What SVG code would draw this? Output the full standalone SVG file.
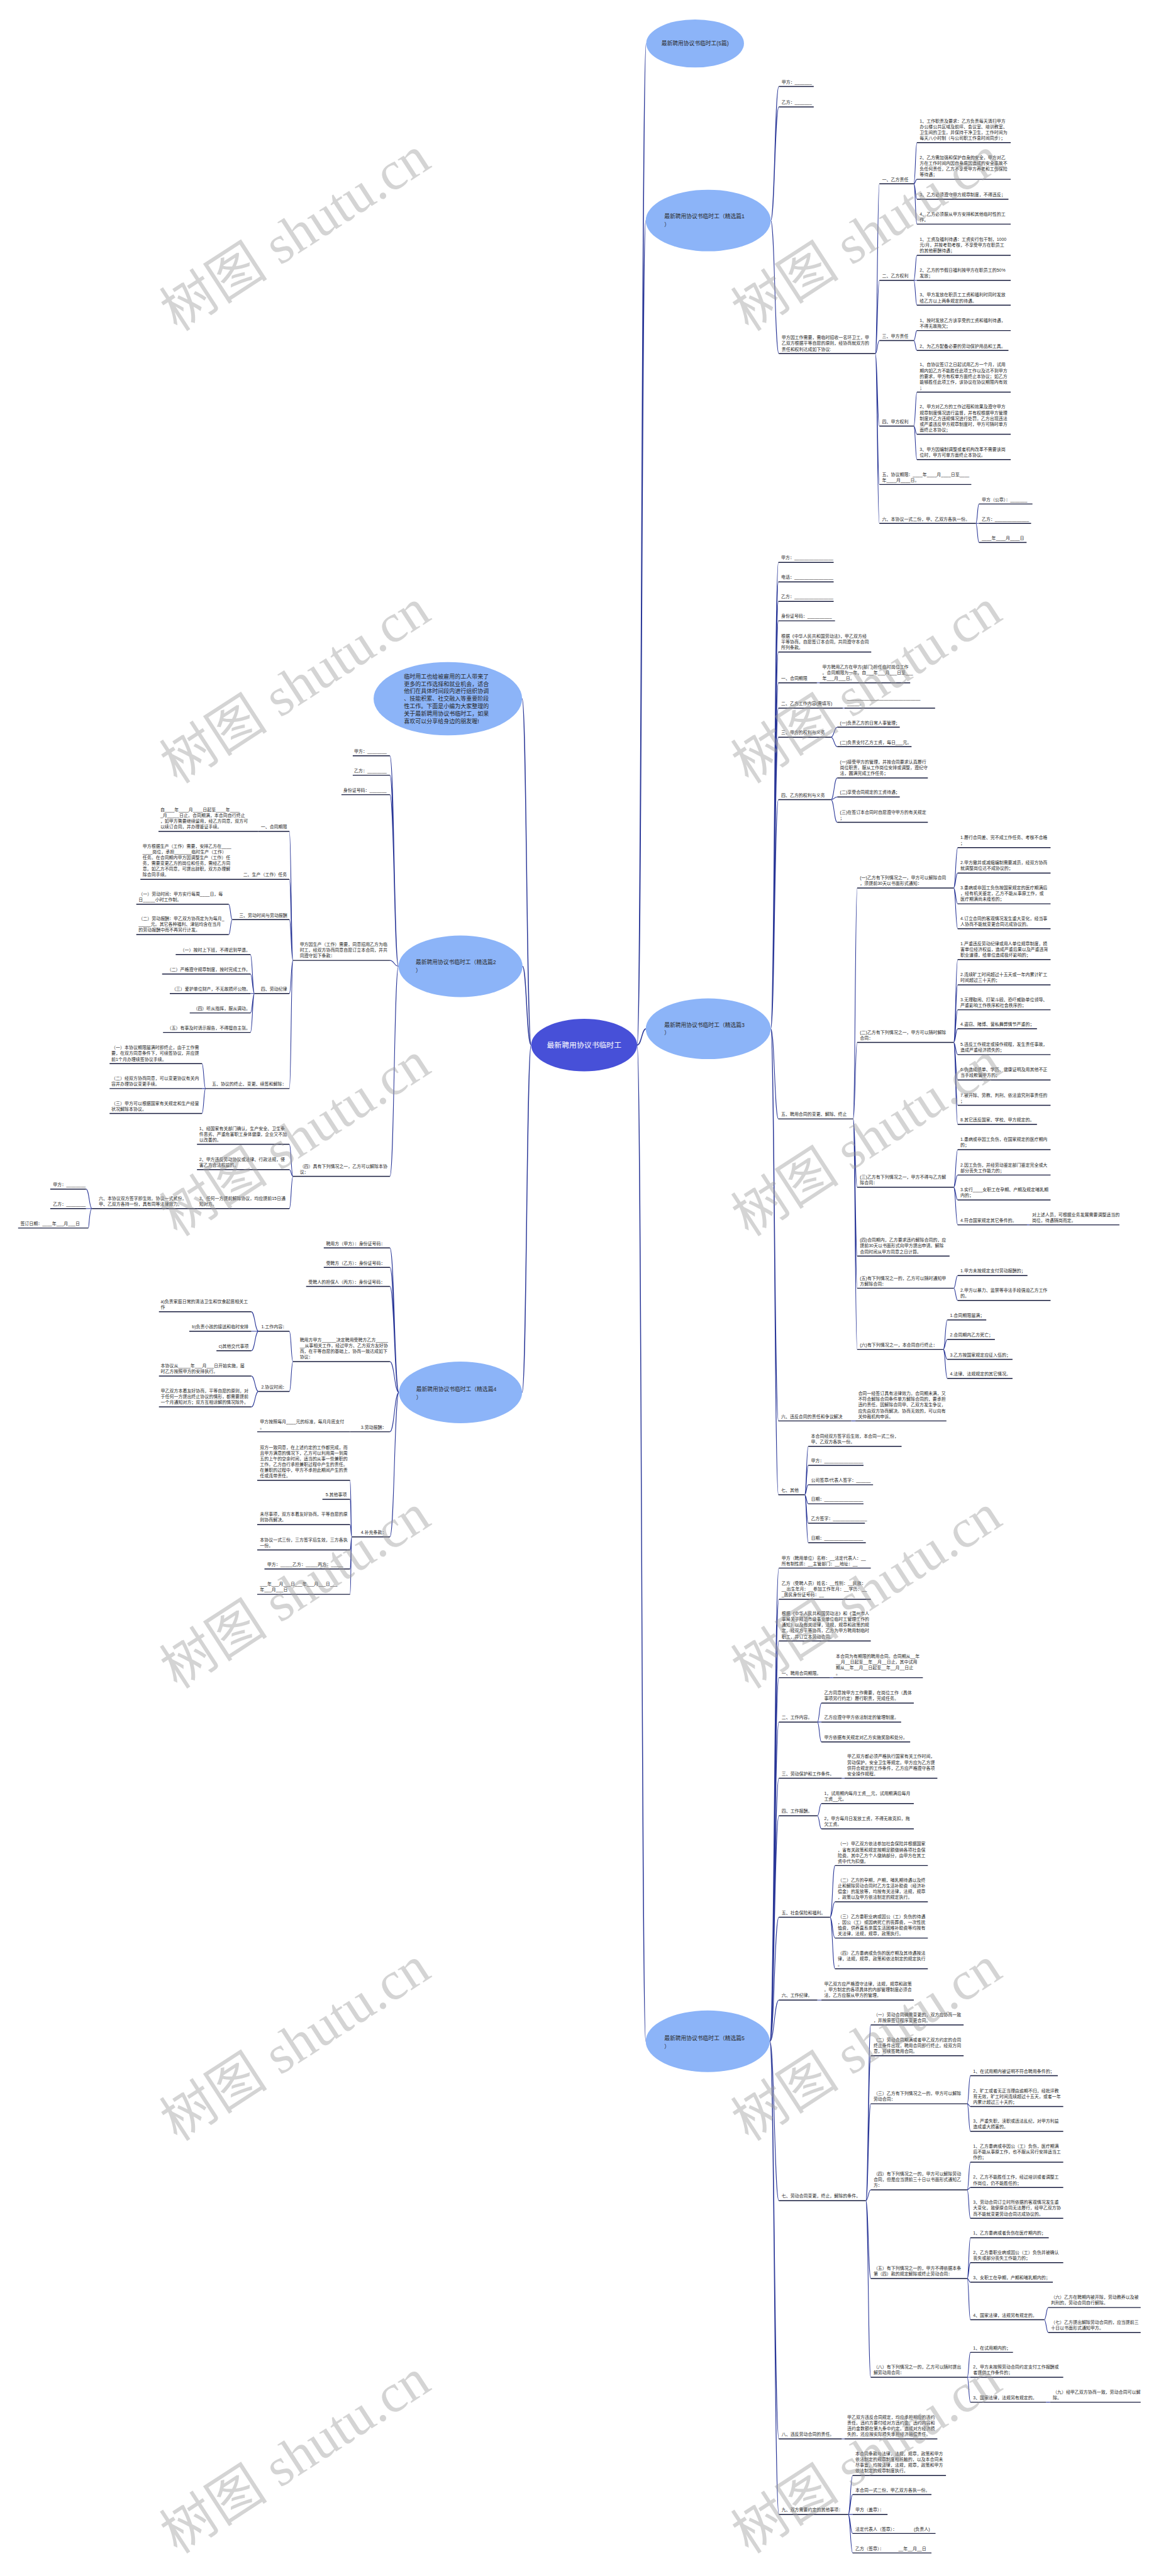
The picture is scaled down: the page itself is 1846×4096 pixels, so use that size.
<svg xmlns="http://www.w3.org/2000/svg" width="1846" height="4096" viewBox="0 0 1846 4096">
<style>
.t{font-family:"Liberation Sans","Noto Sans CJK SC",sans-serif;font-size:9.7px;fill:#262626}
.u{stroke:#161b3d;stroke-width:2;fill:none}
.c{stroke:#2a3798;stroke-width:1.5;fill:none}
.tr{stroke:#2a3798;stroke-width:2;fill:none}
.e{fill:#8cb4f8}
.ec{fill:#4750d8}
.el{font-family:"Liberation Sans","Noto Sans CJK SC",sans-serif;font-size:12.2px;fill:#2b2b2b}
.cl{font-family:"Liberation Sans","Noto Sans CJK SC",sans-serif;font-size:16.5px;fill:#ffffff}
.it{font-family:"Liberation Sans","Noto Sans CJK SC",sans-serif;font-size:12.5px;fill:#262626}
.w{font-family:"Liberation Serif","Noto Sans CJK SC",serif;font-size:120px;fill:#999999;fill-opacity:0.42}
</style>
<rect width="1846" height="4096" fill="#ffffff"/>
<g transform="scale(0.72)">
<g id="connectors">
<path class="tr" d="M1407 2308C1417 2308 1417 96 1427 96M1407 2308C1417 2308 1417 487 1426 487M1407 2308C1417 2308 1417 2272 1427 2272M1407 2308C1417 2308 1417 4508 1426 4508M1173 2308C1163 2308 1163 1543 1153 1543M1173 2308C1163 2308 1163 2134 1154 2134M1173 2308C1163 2308 1163 3075 1153 3075"/>
<path class="c" d="M1702 487C1711 487 1711 191 1720 191M1702 487C1711 487 1711 236 1720 236M1702 487C1711 487 1711 781 1720 781
M1933 781C1937.5 781 1937.5 406 1942 406M1933 781C1937.5 781 1937.5 619 1942 619M1933 781C1937.5 781 1937.5 752 1942 752M1933 781C1937.5 781 1937.5 941 1942 941M1933 781C1937.5 781 1937.5 1070 1942 1070M1933 781C1937.5 781 1937.5 1156 1942 1156
M2018 406C2021.5 406 2021.5 315 2025 315M2018 406C2021.5 406 2021.5 396 2025 396M2018 406C2021.5 406 2021.5 440 2025 440M2018 406C2021.5 406 2021.5 495 2025 495
M2018 619C2021.5 619 2021.5 564 2025 564M2018 619H2025M2018 619C2021.5 619 2021.5 674 2025 674
M2018 752C2021.5 752 2021.5 730 2025 730M2018 752C2021.5 752 2021.5 774 2025 774
M2018 941C2021.5 941 2021.5 866 2025 866M2018 941C2021.5 941 2021.5 959 2025 959M2018 941C2021.5 941 2021.5 1015 2025 1015
M2155 1156C2158.5 1156 2158.5 1113 2162 1113M2155 1156H2162M2155 1156C2158.5 1156 2158.5 1198 2162 1198"/>
<path class="c" d="M1702 2272C1710.5 2272 1710.5 1242 1719 1242M1702 2272C1710.5 2272 1710.5 1285 1719 1285M1702 2272C1710.5 2272 1710.5 1328 1719 1328M1702 2272C1710.5 2272 1710.5 1371 1719 1371M1702 2272C1710.5 2272 1710.5 1440 1719 1440M1702 2272C1710.5 2272 1710.5 1508 1719 1508M1702 2272C1710.5 2272 1710.5 1564 1719 1564M1702 2272C1710.5 2272 1710.5 1628 1719 1628M1702 2272C1710.5 2272 1710.5 1766 1719 1766M1702 2272C1710.5 2272 1710.5 2471 1719 2471M1702 2272C1710.5 2272 1710.5 3138 1719 3138M1702 2272C1710.5 2272 1710.5 3301 1719 3301
M1804 1508H1810M1861 1564H1865M1880 3138H1889M2268 2705H2273
M1835 1628C1842 1628 1842 1606 1849 1606M1835 1628C1842 1628 1842 1649 1849 1649
M1835 1766C1842 1766 1842 1718 1849 1718M1835 1766C1842 1766 1842 1760 1849 1760M1835 1766C1842 1766 1842 1816 1849 1816
M1884 2471C1888.5 2471 1888.5 1961 1893 1961M1884 2471C1888.5 2471 1888.5 2302 1893 2302M1884 2471C1888.5 2471 1888.5 2622 1893 2622M1884 2471C1888.5 2471 1888.5 2774 1893 2774M1884 2471C1888.5 2471 1888.5 2845 1893 2845M1884 2471C1888.5 2471 1888.5 2980 1893 2980
M2106 1961C2110.5 1961 2110.5 1872 2115 1872M2106 1961C2110.5 1961 2110.5 1928 2115 1928M2106 1961C2110.5 1961 2110.5 1996 2115 1996M2106 1961C2110.5 1961 2110.5 2051 2115 2051
M2106 2302C2110.5 2302 2110.5 2119 2115 2119M2106 2302C2110.5 2302 2110.5 2175 2115 2175M2106 2302C2110.5 2302 2110.5 2230 2115 2230M2106 2302C2110.5 2302 2110.5 2272 2115 2272M2106 2302C2110.5 2302 2110.5 2329 2115 2329M2106 2302C2110.5 2302 2110.5 2385 2115 2385M2106 2302C2110.5 2302 2110.5 2441 2115 2441M2106 2302C2110.5 2302 2110.5 2483 2115 2483
M2106 2622C2110.5 2622 2110.5 2539 2115 2539M2106 2622C2110.5 2622 2110.5 2595 2115 2595M2106 2622C2110.5 2622 2110.5 2650 2115 2650M2106 2622C2110.5 2622 2110.5 2705 2115 2705
M2106 2845C2110.5 2845 2110.5 2817 2115 2817M2106 2845C2110.5 2845 2110.5 2872 2115 2872
M2083 2980C2087.5 2980 2087.5 2915 2092 2915M2083 2980C2087.5 2980 2087.5 2958 2092 2958M2083 2980C2087.5 2980 2087.5 3002 2092 3002M2083 2980C2087.5 2980 2087.5 3044 2092 3044
M1777 3301C1781 3301 1781 3194 1785 3194M1777 3301C1781 3301 1781 3236 1785 3236M1777 3301C1781 3301 1781 3279 1785 3279M1777 3301C1781 3301 1781 3321 1785 3321M1777 3301C1781 3301 1781 3364 1785 3364M1777 3301C1781 3301 1781 3407 1785 3407"/>
<path class="c" d="M1700 4508C1710 4508 1710 3463 1720 3463M1700 4508C1710 4508 1710 3532 1720 3532M1700 4508C1710 4508 1710 3624 1720 3624M1700 4508C1710 4508 1710 3705 1720 3705M1700 4508C1710 4508 1710 3803 1720 3803M1700 4508C1710 4508 1710 3927 1720 3927M1700 4508C1710 4508 1710 4010 1720 4010M1700 4508C1710 4508 1710 4234 1720 4234M1700 4508C1710 4508 1710 4417 1720 4417M1700 4508C1710 4508 1710 4860 1720 4860M1700 4508C1710 4508 1710 5386 1720 5386M1700 4508C1710 4508 1710 5553 1720 5553
M1833 3705H1840M1859 3927H1865M1805 4417H1814M1859 5386H1865M2310 5305H2319
M1805 3803C1809.5 3803 1809.5 3761 1814 3761M1805 3803H1814M1805 3803C1809.5 3803 1809.5 3847 1814 3847
M1805 4010C1809.5 4010 1809.5 3983 1814 3983M1805 4010C1809.5 4010 1809.5 4039 1814 4039
M1833 4234C1838.5 4234 1838.5 4120 1844 4120M1833 4234C1838.5 4234 1838.5 4200 1844 4200M1833 4234C1838.5 4234 1838.5 4280 1844 4280M1833 4234C1838.5 4234 1838.5 4348 1844 4348
M1912 4860C1917.5 4860 1917.5 4472 1923 4472M1912 4860C1917.5 4860 1917.5 4540 1923 4540M1912 4860C1917.5 4860 1917.5 4646 1923 4646M1912 4860C1917.5 4860 1917.5 4836 1923 4836M1912 4860C1917.5 4860 1917.5 5032 1923 5032M1912 4860C1917.5 4860 1917.5 5250 1923 5250
M2136 4646C2139.5 4646 2139.5 4584 2143 4584M2136 4646C2139.5 4646 2139.5 4652 2143 4652M2136 4646C2139.5 4646 2139.5 4707 2143 4707
M2136 4836C2139.5 4836 2139.5 4775 2143 4775M2136 4836C2139.5 4836 2139.5 4831 2143 4831M2136 4836C2139.5 4836 2139.5 4899 2143 4899
M2136 5032C2139.5 5032 2139.5 4942 2143 4942M2136 5032C2139.5 5032 2139.5 4997 2143 4997M2136 5032C2139.5 5032 2139.5 5040 2143 5040M2136 5032C2139.5 5032 2139.5 5123 2143 5123
M2306 5123C2310.5 5123 2310.5 5096 2315 5096M2306 5123C2310.5 5123 2310.5 5151 2315 5151
M2136 5250C2139.5 5250 2139.5 5195 2143 5195M2136 5250H2143M2136 5250C2139.5 5250 2139.5 5305 2143 5305
M1873 5553C1878 5553 1878 5467 1883 5467M1873 5553C1878 5553 1878 5509 1883 5509M1873 5553H1883M1873 5553C1878 5553 1878 5595 1883 5595M1873 5553C1878 5553 1878 5638 1883 5638"/>
<path class="c" d="M880 2134C870.5 2134 870.5 1669 861 1669M880 2134C870.5 2134 870.5 1712 861 1712M880 2134C870.5 2134 870.5 1755 861 1755M880 2134C870.5 2134 870.5 2121 861 2121M880 2134C870.5 2134 870.5 2598 861 2598
M647 2121C643 2121 643 1836 639 1836M647 2121C643 2121 643 1942 639 1942M647 2121C643 2121 643 2031 639 2031M647 2121C643 2121 643 2194 639 2194M647 2121C643 2121 643 2404 639 2404
M513 2031C509 2031 509 1997 505 1997M513 2031C509 2031 509 2064 505 2064
M562 2194C557.5 2194 557.5 2108 553 2108M562 2194C557.5 2194 557.5 2151 553 2151M562 2194H553M562 2194C557.5 2194 557.5 2237 553 2237M562 2194C557.5 2194 557.5 2280 553 2280
M454 2404C450 2404 450 2349 446 2349M454 2404H446M454 2404C450 2404 450 2459 446 2459
M647 2598C643 2598 643 2527 639 2527M647 2598C643 2598 643 2583 639 2583M647 2598C643 2598 643 2669 639 2669
M203 2669C197 2669 197 2626 190 2626M203 2669H190M203 2669C197 2669 197 2712 195 2712"/>
<path class="c" d="M881 3075C871 3075 871 2756 861 2756M881 3075C871 3075 871 2799 861 2799M881 3075C871 3075 871 2841 861 2841M881 3075C871 3075 871 3007 861 3007M881 3075C871 3075 871 3162 861 3162M881 3075C871 3075 871 3394 861 3394
M647 3007C643 3007 643 2940 639 2940M647 3007C643 3007 643 3073 639 3073
M571 2940C563 2940 563 2897 555 2897M571 2940H555M571 2940C563 2940 563 2983 555 2983
M571 3073C563 3073 563 3039 555 3039M571 3073C563 3073 563 3107 555 3107
M777 3394C775 3394 775 3269 773 3269M777 3394C775 3394 775 3311 773 3311M777 3394C775 3394 775 3367 773 3367M777 3394C775 3394 775 3423 773 3423M777 3394C775 3394 775 3465 773 3465M777 3394C775 3394 775 3521 773 3521"/>
</g>

<g id="center"><ellipse cx="1290" cy="2308" rx="117" ry="58" class="ec"/><text x="1290" y="2314" class="cl" text-anchor="middle">最新聘用协议书临时工</text></g>
<g id="title"><ellipse cx="1535" cy="96" rx="108" ry="53" class="e"/><text x="1535" y="100" class="el" text-anchor="middle">最新聘用协议书临时工(5篇)</text></g>
<g id="intro"><ellipse cx="989" cy="1543" rx="164" ry="81" class="e"/><text class="it" x="892" y="1498">临时用工也给被雇用的工人带来了<tspan x="892" dy="16.6">更多的工作选择和就业机会，适合</tspan><tspan x="892" dy="16.6">他们在具体时间段内进行组织协调</tspan><tspan x="892" dy="16.6">、技能积累、社交融入等重要阶段</tspan><tspan x="892" dy="16.6">性工作。下面是小编为大家整理的</tspan><tspan x="892" dy="16.6">关于最新聘用协议书临时工，如果</tspan><tspan x="892" dy="16.6">喜欢可以分享给身边的朋友喔!</tspan></text></g>
<g id="p1"><ellipse cx="1564" cy="487" rx="138" ry="68" class="e"/><text class="el" x="1467" y="482">最新聘用协议书临时工（精选篇1<tspan x="1467" dy="18">）</tspan></text></g>
<g id="p3"><ellipse cx="1564" cy="2272" rx="138" ry="67" class="e"/><text class="el" x="1467" y="2268">最新聘用协议书临时工（精选篇3<tspan x="1467" dy="17">）</tspan></text></g>
<g id="p5"><ellipse cx="1563" cy="4508" rx="137" ry="68" class="e"/><text class="el" x="1467" y="4505">最新聘用协议书临时工（精选篇5<tspan x="1467" dy="18">）</tspan></text></g>
<g id="p2"><ellipse cx="1017" cy="2134" rx="137" ry="68" class="e"/><text class="el" x="918" y="2129">最新聘用协议书临时工（精选篇2<tspan x="918" dy="18">）</tspan></text></g>
<g id="p4"><ellipse cx="1017" cy="3075" rx="136" ry="68" class="e"/><text class="el" x="919" y="3072">最新聘用协议书临时工（精选篇4<tspan x="919" dy="18">）</tspan></text></g>

<!-- Branch 1 -->
<g id="b1a"><text class="t" x="1726" y="184.4">甲方：_______</text><path class="u" d="M1720 191H1797"/></g>
<g id="b1b"><text class="t" x="1726" y="229.4">乙方：_______</text><path class="u" d="M1720 236H1797"/></g>
<g id="b1c"><text class="t" x="1726" y="749.2">甲方因工作需要，需临时招收一名环卫工，甲<tspan x="1726" dy="12.6">乙双方根据平等自愿的原则，经协商就双方的</tspan><tspan x="1726" dy="12.6">责任和权利达成如下协议:</tspan></text><path class="u" d="M1720 781H1933"/></g>
<g id="b1c1"><text class="t" x="1948" y="399.4">一、乙方责任</text><path class="u" d="M1942 406H2018"/></g>
<g id="b1c1a"><text class="t" x="2031" y="270.6">1、工作职责及要求：乙方负责每天清扫甲方<tspan x="2031" dy="12.6">办公楼公共区域及前坪、会议室、培训教室、</tspan><tspan x="2031" dy="12.6">卫生间的卫生，并保持干净卫生，工作时间为</tspan><tspan x="2031" dy="12.6">每天八小时制（与公司职工作息时间同步）；</tspan></text><path class="u" d="M2025 315H2232"/></g>
<g id="b1c1b"><text class="t" x="2031" y="351.6">2、乙方需加强和保护自身的安全，甲方对乙<tspan x="2031" dy="12.6">方在工作时间内因自身原因造成的安全事故不</tspan><tspan x="2031" dy="12.6">负任何责任，乙方不享受甲方养老和工伤保险</tspan><tspan x="2031" dy="12.6">等待遇；</tspan></text><path class="u" d="M2025 396H2232"/></g>
<g id="b1c1c"><text class="t" x="2031" y="433.4">3、乙方必须遵守甲方规章制度，不得违反；</text><path class="u" d="M2025 440H2227"/></g>
<g id="b1c1d"><text class="t" x="2031" y="475.8">4、乙方必须服从甲方安排和其他临时性的工<tspan x="2031" dy="12.6">作。</tspan></text><path class="u" d="M2025 495H2232"/></g>
<g id="b1c2"><text class="t" x="1948" y="612.4">二、乙方权利</text><path class="u" d="M1942 619H2018"/></g>
<g id="b1c2a"><text class="t" x="2031" y="532.2">1、工资及福利待遇：工资实行包干制，1000<tspan x="2031" dy="12.6">元/月，并按考勤考核，不享受甲方在职员工</tspan><tspan x="2031" dy="12.6">的其他薪酬待遇；</tspan></text><path class="u" d="M2025 564H2232"/></g>
<g id="b1c2b"><text class="t" x="2031" y="599.8">2、乙方的节假日福利按甲方在职员工的50%<tspan x="2031" dy="12.6">发放；</tspan></text><path class="u" d="M2025 619H2232"/></g>
<g id="b1c2c"><text class="t" x="2031" y="654.8">3、甲方发放在职员工工资和福利时同时发放<tspan x="2031" dy="12.6">给乙方以上两条规定的待遇。</tspan></text><path class="u" d="M2025 674H2232"/></g>
<g id="b1c3"><text class="t" x="1948" y="745.4">三、甲方责任</text><path class="u" d="M1942 752H2018"/></g>
<g id="b1c3a"><text class="t" x="2031" y="710.8">1、按时发放乙方该享受的工资和福利待遇，<tspan x="2031" dy="12.6">不得无故拖欠；</tspan></text><path class="u" d="M2025 730H2232"/></g>
<g id="b1c3b"><text class="t" x="2031" y="767.4">2、为乙方配备必要的劳动保护用品和工具。</text><path class="u" d="M2025 774H2227"/></g>
<g id="b1c4"><text class="t" x="1948" y="934.4">四、甲方权利</text><path class="u" d="M1942 941H2018"/></g>
<g id="b1c4a"><text class="t" x="2031" y="809">1、自协议签订之日起试用乙方一个月，试用<tspan x="2031" dy="12.6">期内如乙方不能胜任此项工作以及达不到甲方</tspan><tspan x="2031" dy="12.6">的要求，甲方有权单方面终止本协议；如乙方</tspan><tspan x="2031" dy="12.6">能够胜任此项工作，该协议在协议期限内有效</tspan><tspan x="2031" dy="12.6">；</tspan></text><path class="u" d="M2025 866H2232"/></g>
<g id="b1c4b"><text class="t" x="2031" y="902">2、甲方对乙方的工作过程和效果及遵守甲方<tspan x="2031" dy="12.6">规章制度情况进行监督，并有权根据甲方管理</tspan><tspan x="2031" dy="12.6">制度对乙方违规情况进行处罚，乙方出现违法</tspan><tspan x="2031" dy="12.6">或严重违反甲方规章制度时，甲方可随时单方</tspan><tspan x="2031" dy="12.6">面终止本协议；</tspan></text><path class="u" d="M2025 959H2232"/></g>
<g id="b1c4c"><text class="t" x="2031" y="995.8">3、甲方因编制调整或者机构改革不需要该岗<tspan x="2031" dy="12.6">位时，甲方可单方面终止本协议。</tspan></text><path class="u" d="M2025 1015H2232"/></g>
<g id="b1c5"><text class="t" x="1948" y="1050.8">五、协议期限：____年____月____日至____<tspan x="1948" dy="12.6">年____月____日。</tspan></text><path class="u" d="M1942 1070H2145"/></g>
<g id="b1c6"><text class="t" x="1948" y="1149.4">六、本协议一式二份，甲、乙双方各执一份。</text><path class="u" d="M1942 1156H2155"/></g>
<g id="b1c6a"><text class="t" x="2168" y="1106.4">甲方（公章）：_______</text><path class="u" d="M2162 1113H2280"/></g>
<g id="b1c6b"><text class="t" x="2168" y="1149.4">乙方：______________</text><path class="u" d="M2162 1156H2277"/></g>
<g id="b1c6c"><text class="t" x="2168" y="1191.4">____年____月____日</text><path class="u" d="M2162 1198H2267"/></g>

<!-- Branch 3 -->
<g id="b3a"><text class="t" x="1725" y="1235.4">甲方：________________</text><path class="u" d="M1719 1242H1841"/></g>
<g id="b3b"><text class="t" x="1725" y="1278.4">电话：________________</text><path class="u" d="M1719 1285H1841"/></g>
<g id="b3c"><text class="t" x="1725" y="1321.4">乙方：________________</text><path class="u" d="M1719 1328H1841"/></g>
<g id="b3d"><text class="t" x="1725" y="1364.4">身份证号码：__________</text><path class="u" d="M1719 1371H1844"/></g>
<g id="b3e"><text class="t" x="1725" y="1408.2">根据《中华人民共和国劳动法》，甲乙双方经<tspan x="1725" dy="12.6">平等协商，自愿签订本合同，共同遵守本合同</tspan><tspan x="1725" dy="12.6">所列条款。</tspan></text><path class="u" d="M1719 1440H1924"/></g>
<g id="b3f"><text class="t" x="1725" y="1501.4">一、合同期限</text><path class="u" d="M1719 1508H1804"/></g>
<g id="b3f1"><text class="t" x="1816" y="1476.2">甲方聘用乙方在甲方(部门)担任临时岗位工作<tspan x="1816" dy="12.6">。合同期限为一年，自___年___月___日至___</tspan><tspan x="1816" dy="12.6">年___月___日。</tspan></text><path class="u" d="M1810 1508H2010"/></g>
<g id="b3g"><text class="t" x="1725" y="1557.4">二、乙方工作内容(需填写)</text><path class="u" d="M1719 1564H1861"/></g>
<g id="b3g1"><text class="t" x="1871" y="1544.8">______________________________<tspan x="1871" dy="12.6">_____。</tspan></text><path class="u" d="M1865 1564H2065"/></g>
<g id="b3h"><text class="t" x="1725" y="1621.4">三、甲方的权利与义务</text><path class="u" d="M1719 1628H1835"/></g>
<g id="b3h1"><text class="t" x="1855" y="1599.4">(一)负责乙方的日常人事管理；</text><path class="u" d="M1849 1606H1987"/></g>
<g id="b3h2"><text class="t" x="1855" y="1642.4">(二)负责支付乙方工资，每日___元。</text><path class="u" d="M1849 1649H2013"/></g>
<g id="b3i"><text class="t" x="1725" y="1759.4">四、乙方的权利与义务</text><path class="u" d="M1719 1766H1835"/></g>
<g id="b3i1"><text class="t" x="1855" y="1686.2">(一)接受甲方的管理，并按合同要求认真履行<tspan x="1855" dy="12.6">岗位职责，服从工作岗位安排或调整，遵纪守</tspan><tspan x="1855" dy="12.6">法，圆满完成工作任务；</tspan></text><path class="u" d="M1849 1718H2049"/></g>
<g id="b3i2"><text class="t" x="1855" y="1753.4">(二)享受合同规定的工资待遇；</text><path class="u" d="M1849 1760H1987"/></g>
<g id="b3i3"><text class="t" x="1855" y="1796.8">(三)在签订本合同时自愿遵守甲方的有关规定<tspan x="1855" dy="12.6">；</tspan></text><path class="u" d="M1849 1816H2049"/></g>
<g id="b3j"><text class="t" x="1725" y="2464.4">五、聘用合同的变更、解除、终止</text><path class="u" d="M1719 2471H1884"/></g>
<g id="b3j1"><text class="t" x="1899" y="1941.8">(一)乙方有下列情况之一，甲方可以解除合同<tspan x="1899" dy="12.6">，须提前30天以书面形式通知：</tspan></text><path class="u" d="M1893 1961H2106"/></g>
<g id="b3j1a"><text class="t" x="2121" y="1852.8">1.履行合同差、完不成工作任务、考核不合格<tspan x="2121" dy="12.6">；</tspan></text><path class="u" d="M2115 1872H2320"/></g>
<g id="b3j1b"><text class="t" x="2121" y="1908.8">2.甲方撤并或减缩编制需要减员，经双方协商<tspan x="2121" dy="12.6">就调整岗位达不成协议的；</tspan></text><path class="u" d="M2115 1928H2320"/></g>
<g id="b3j1c"><text class="t" x="2121" y="1964.2">3.患病或非因工负伤按国家规定的医疗期满后<tspan x="2121" dy="12.6">，经有机关鉴定，乙方不能从事原工作，或</tspan><tspan x="2121" dy="12.6">医疗期满尚未痊愈的；</tspan></text><path class="u" d="M2115 1996H2320"/></g>
<g id="b3j1d"><text class="t" x="2121" y="2031.8">4.订立合同的客观情况发生重大变化，经当事<tspan x="2121" dy="12.6">人协商不能就变更合同达成协议的。</tspan></text><path class="u" d="M2115 2051H2320"/></g>
<g id="b3j2"><text class="t" x="1899" y="2282.8">(二)乙方有下列情况之一，甲方可以随时解除<tspan x="1899" dy="12.6">合同：</tspan></text><path class="u" d="M1893 2302H2106"/></g>
<g id="b3j2a"><text class="t" x="2121" y="2087.2">1.严重违反劳动纪律或用人单位规章制度，损<tspan x="2121" dy="12.6">害单位经济权益，造成严重后果以及严重违背</tspan><tspan x="2121" dy="12.6">职业道德，给单位造成极坏影响的；</tspan></text><path class="u" d="M2115 2119H2320"/></g>
<g id="b3j2b"><text class="t" x="2121" y="2155.8">2.连续旷工时间超过十五天或一年内累计旷工<tspan x="2121" dy="12.6">时间超过三十天的；</tspan></text><path class="u" d="M2115 2175H2320"/></g>
<g id="b3j2c"><text class="t" x="2121" y="2210.8">3.无理取闹、打架斗殴、恐吓威胁单位领导、<tspan x="2121" dy="12.6">严重影响工作秩序和社会秩序的；</tspan></text><path class="u" d="M2115 2230H2320"/></g>
<g id="b3j2d"><text class="t" x="2121" y="2265.4">4.盗窃、赌博、营私舞弊情节严重的；</text><path class="u" d="M2115 2272H2290"/></g>
<g id="b3j2e"><text class="t" x="2121" y="2309.8">5.违反工作规定或操作规程，发生责任事故，<tspan x="2121" dy="12.6">造成严重经济损失的；</tspan></text><path class="u" d="M2115 2329H2320"/></g>
<g id="b3j2f"><text class="t" x="2121" y="2365.8">6.伪造成绩单、学历、健康证明及用其他不正<tspan x="2121" dy="12.6">当手段欺骗甲方的；</tspan></text><path class="u" d="M2115 2385H2320"/></g>
<g id="b3j2g"><text class="t" x="2121" y="2421.8">7.被开除、劳教、判刑、依法追究刑事责任的<tspan x="2121" dy="12.6">；</tspan></text><path class="u" d="M2115 2441H2320"/></g>
<g id="b3j2h"><text class="t" x="2121" y="2476.4">8.其它违反国家、学校、甲方规定的。</text><path class="u" d="M2115 2483H2290"/></g>
<g id="b3j3"><text class="t" x="1899" y="2602.8">(三)乙方有下列情况之一，甲方不得与乙方解<tspan x="1899" dy="12.6">除合同：</tspan></text><path class="u" d="M1893 2622H2106"/></g>
<g id="b3j3a"><text class="t" x="2121" y="2519.8">1.患病或非因工负伤，在国家规定的医疗期内<tspan x="2121" dy="12.6">的；</tspan></text><path class="u" d="M2115 2539H2320"/></g>
<g id="b3j3b"><text class="t" x="2121" y="2575.8">2.因工负伤，并经劳动鉴定部门鉴定完全或大<tspan x="2121" dy="12.6">部分丧失工作能力的；</tspan></text><path class="u" d="M2115 2595H2320"/></g>
<g id="b3j3c"><text class="t" x="2121" y="2630.8">3.实行____女职工在孕期、产期及规定哺乳期<tspan x="2121" dy="12.6">内的；</tspan></text><path class="u" d="M2115 2650H2320"/></g>
<g id="b3j3d"><text class="t" x="2121" y="2698.4">4.符合国家规定其它条件的。</text><path class="u" d="M2115 2705H2268"/></g>
<g id="b3j3d1"><text class="t" x="2279" y="2685.8">对上述人员，可根据业务发展需要调整适当的<tspan x="2279" dy="12.6">岗位，待遇随岗而定。</tspan></text><path class="u" d="M2273 2705H2472"/></g>
<g id="b3j4"><text class="t" x="1899" y="2742.2">(四)合同期内，乙方要求违约解除合同的，应<tspan x="1899" dy="12.6">提前30天以书面形式向甲方提出申请。解除</tspan><tspan x="1899" dy="12.6">合同时间从甲方同意之日计算。</tspan></text><path class="u" d="M1893 2774H2097"/></g>
<g id="b3j5"><text class="t" x="1899" y="2825.8">(五)有下列情况之一的，乙方可以随时通知甲<tspan x="1899" dy="12.6">方解除合同：</tspan></text><path class="u" d="M1893 2845H2106"/></g>
<g id="b3j5a"><text class="t" x="2121" y="2810.4">1.甲方未按规定支付劳动报酬的；</text><path class="u" d="M2115 2817H2269"/></g>
<g id="b3j5b"><text class="t" x="2121" y="2852.8">2.甲方以暴力、监禁等非法手段强迫乙方工作<tspan x="2121" dy="12.6">的。</tspan></text><path class="u" d="M2115 2872H2320"/></g>
<g id="b3j6"><text class="t" x="1899" y="2973.4">(六)有下列情况之一，本合同自行终止：</text><path class="u" d="M1893 2980H2083"/></g>
<g id="b3j6a"><text class="t" x="2098" y="2908.4">1.合同期限届满；</text><path class="u" d="M2092 2915H2178"/></g>
<g id="b3j6b"><text class="t" x="2098" y="2951.4">2.合同期内乙方死亡；</text><path class="u" d="M2092 2958H2197"/></g>
<g id="b3j6c"><text class="t" x="2098" y="2995.4">3.乙方按国家规定应征入伍的；</text><path class="u" d="M2092 3002H2236"/></g>
<g id="b3j6d"><text class="t" x="2098" y="3037.4">4.法律、法规规定的其它情况。</text><path class="u" d="M2092 3044H2236"/></g>
<g id="b3k"><text class="t" x="1725" y="3131.4">六、违反合同的责任和争议解决</text><path class="u" d="M1719 3138H1880"/></g>
<g id="b3k1"><text class="t" x="1895" y="3081">合同一经签订具有法律效力。合同期未满，又<tspan x="1895" dy="12.6">不符合解除合同条件单方解除合同的，要承担</tspan><tspan x="1895" dy="12.6">违约责任。因解除合同甲、乙双方发生争议，</tspan><tspan x="1895" dy="12.6">应先由双方协商解决。协商无效的，可以向有</tspan><tspan x="1895" dy="12.6">关仲裁机构申诉。</tspan></text><path class="u" d="M1889 3138H2090"/></g>
<g id="b3l"><text class="t" x="1725" y="3294.4">七、其他</text><path class="u" d="M1719 3301H1777"/></g>
<g id="b3l1"><text class="t" x="1791" y="3174.8">本合同经双方签字后生效，本合同一式二份，<tspan x="1791" dy="12.6">甲、乙双方各执一份。</tspan></text><path class="u" d="M1785 3194H1991"/></g>
<g id="b3l2"><text class="t" x="1791" y="3229.4">甲方：________________</text><path class="u" d="M1785 3236H1907"/></g>
<g id="b3l3"><text class="t" x="1791" y="3272.4">公司签章/代表人签字：______</text><path class="u" d="M1785 3279H1928"/></g>
<g id="b3l4"><text class="t" x="1791" y="3314.4">日期：________________</text><path class="u" d="M1785 3321H1907"/></g>
<g id="b3l5"><text class="t" x="1791" y="3357.4">乙方签字：______________</text><path class="u" d="M1785 3364H1910"/></g>
<g id="b3l6"><text class="t" x="1791" y="3400.4">日期：________________</text><path class="u" d="M1785 3407H1912"/></g>

<!-- Branch 5 -->
<g id="b5a"><text class="t" x="1726" y="3443.8">甲方（聘用单位）名称：__法定代表人：__<tspan x="1726" dy="12.6">所有制性质：__主管部门：__地址：__</tspan></text><path class="u" d="M1720 3463H1923"/></g>
<g id="b5b"><text class="t" x="1726" y="3500.2">乙方（受聘人员）姓名：__性别：__民族：<tspan x="1726" dy="12.6">__出生年月：__参加工作年月：__学历：__</tspan><tspan x="1726" dy="12.6">_居民身份证号码：__</tspan></text><path class="u" d="M1720 3532H1923"/></g>
<g id="b5c"><text class="t" x="1726" y="3567">根据《中华人民共和国劳动法》和《温州市人<tspan x="1726" dy="12.6">事局关于规范市级事业单位临时工管理工作的</tspan><tspan x="1726" dy="12.6">通知》以及有关法律，法规，规章和政策的规</tspan><tspan x="1726" dy="12.6">定，经双方平等协商，乙方为甲方聘用制临时</tspan><tspan x="1726" dy="12.6">职工，并订立本劳动合同。</tspan></text><path class="u" d="M1720 3624H1923"/></g>
<g id="b5d"><text class="t" x="1726" y="3698.4">一、聘用合同期限。</text><path class="u" d="M1720 3705H1833"/></g>
<g id="b5d1"><text class="t" x="1846" y="3660.6">本合同为有期限的聘用合同。合同期从__年<tspan x="1846" dy="12.6">__月__日起至__年__月__日止，其中试用</tspan><tspan x="1846" dy="12.6">期从__年__月__日起至__年__月__日止</tspan><tspan x="1846" dy="12.6">。</tspan></text><path class="u" d="M1840 3705H2038"/></g>
<g id="b5e"><text class="t" x="1726" y="3796.4">二、工作内容。</text><path class="u" d="M1720 3803H1805"/></g>
<g id="b5e1"><text class="t" x="1820" y="3741.8">乙方同意按甲方工作需要，在岗位工作（具体<tspan x="1820" dy="12.6">事项另行约定）履行职责，完成任务。</tspan></text><path class="u" d="M1814 3761H2018"/></g>
<g id="b5e2"><text class="t" x="1820" y="3796.4">乙方应遵守甲方依法制定的管理制度。</text><path class="u" d="M1814 3803H1990"/></g>
<g id="b5e3"><text class="t" x="1820" y="3840.4">甲方依据有关规定对乙方实施奖励和处分。</text><path class="u" d="M1814 3847H2010"/></g>
<g id="b5f"><text class="t" x="1726" y="3920.4">三、劳动保护和工作条件。</text><path class="u" d="M1720 3927H1859"/></g>
<g id="b5f1"><text class="t" x="1871" y="3882.6">甲乙双方都必须严格执行国家有关工作时间，<tspan x="1871" dy="12.6">劳动保护，安全卫生等规定。甲方应为乙方提</tspan><tspan x="1871" dy="12.6">供符合规定的工作条件，乙方应严格遵守各项</tspan><tspan x="1871" dy="12.6">安全操作规程。</tspan></text><path class="u" d="M1865 3927H2070"/></g>
<g id="b5g"><text class="t" x="1726" y="4003.4">四、工作报酬。</text><path class="u" d="M1720 4010H1805"/></g>
<g id="b5g1"><text class="t" x="1820" y="3963.8">1，试用期内每月工资__元，试用期满后每月<tspan x="1820" dy="12.6">工资__元。</tspan></text><path class="u" d="M1814 3983H2018"/></g>
<g id="b5g2"><text class="t" x="1820" y="4019.8">2，甲方每月日发放工资，不得无故克扣，拖<tspan x="1820" dy="12.6">欠工资。</tspan></text><path class="u" d="M1814 4039H2018"/></g>
<g id="b5h"><text class="t" x="1726" y="4227.4">五、社会保险和福利。</text><path class="u" d="M1720 4234H1833"/></g>
<g id="b5h1"><text class="t" x="1850" y="4075.6">（一）甲乙双方依法参加社会保险并根据国家<tspan x="1850" dy="12.6">，省有关政策和规定按期足额缴纳各项社会保</tspan><tspan x="1850" dy="12.6">险费。其中乙方个人缴纳部分，由甲方在其工</tspan><tspan x="1850" dy="12.6">资中代为扣缴。</tspan></text><path class="u" d="M1844 4120H2049"/></g>
<g id="b5h2"><text class="t" x="1850" y="4155.6">（二）乙方的孕期，产期，哺乳期待遇以及终<tspan x="1850" dy="12.6">止和解除劳动合同时乙方生活补助费（经济补</tspan><tspan x="1850" dy="12.6">偿金）的发放等，均按有关法律，法规，规章</tspan><tspan x="1850" dy="12.6">，政策以及甲方依法制定的规定执行。</tspan></text><path class="u" d="M1844 4200H2049"/></g>
<g id="b5h3"><text class="t" x="1850" y="4235.6">（三）乙方患职业病或因公（工）负伤的待遇<tspan x="1850" dy="12.6">，因公（工）或因病死亡的丧葬费，一次性抚</tspan><tspan x="1850" dy="12.6">恤费，供养直系亲属生活困难补助费等均按有</tspan><tspan x="1850" dy="12.6">关法律，法规，规章，政策执行。</tspan></text><path class="u" d="M1844 4280H2049"/></g>
<g id="b5h4"><text class="t" x="1850" y="4316.2">（四）乙方患病或负伤的医疗期及其待遇按法<tspan x="1850" dy="12.6">律，法规，规章，政策和依法制定的规定执行</tspan><tspan x="1850" dy="12.6">。</tspan></text><path class="u" d="M1844 4348H2049"/></g>
<g id="b5i"><text class="t" x="1726" y="4410.4">六、工作纪律。</text><path class="u" d="M1720 4417H1805"/></g>
<g id="b5i1"><text class="t" x="1820" y="4385.2">甲乙双方应严格遵守法律，法规，规章和政策<tspan x="1820" dy="12.6">。甲方制定的各项具体的内部管理制度必须合</tspan><tspan x="1820" dy="12.6">法，乙方应服从甲方的管理。</tspan></text><path class="u" d="M1814 4417H2018"/></g>
<g id="b5j"><text class="t" x="1726" y="4853.4">七、劳动合同变更，终止，解除的条件。</text><path class="u" d="M1720 4860H1912"/></g>
<g id="b5j1"><text class="t" x="1929" y="4452.8">（一）劳动合同确需变更的，双方应协商一致<tspan x="1929" dy="12.6">，并按原签订程序变更合同。</tspan></text><path class="u" d="M1923 4472H2128"/></g>
<g id="b5j2"><text class="t" x="1929" y="4508.2">（二）劳动合同期满或者甲乙双方约定的合同<tspan x="1929" dy="12.6">终止条件出现，聘用合同即行终止。经双方同</tspan><tspan x="1929" dy="12.6">意，可续签聘用合同。</tspan></text><path class="u" d="M1923 4540H2128"/></g>
<g id="b5j3"><text class="t" x="1929" y="4626.8">（三）乙方有下列情况之一的，甲方可以解除<tspan x="1929" dy="12.6">劳动合同：</tspan></text><path class="u" d="M1923 4646H2136"/></g>
<g id="b5j3a"><text class="t" x="2149" y="4577.4">1、在试用期内被证明不符合聘用条件的；</text><path class="u" d="M2143 4584H2336"/></g>
<g id="b5j3b"><text class="t" x="2149" y="4620.2">2、旷工或者无正当理由逾期不归，经批评教<tspan x="2149" dy="12.6">育无效，旷工时间连续超过十五天，或者一年</tspan><tspan x="2149" dy="12.6">内累计超过三十天的；</tspan></text><path class="u" d="M2143 4652H2348"/></g>
<g id="b5j3c"><text class="t" x="2149" y="4687.8">3、严重失职，渎职或违法乱纪，对甲方利益<tspan x="2149" dy="12.6">造成重大损害的。</tspan></text><path class="u" d="M2143 4707H2348"/></g>
<g id="b5j4"><text class="t" x="1929" y="4804.2">（四）有下列情况之一的，甲方可以解除劳动<tspan x="1929" dy="12.6">合同，但是应当提前三十日以书面形式通知乙</tspan><tspan x="1929" dy="12.6">方：</tspan></text><path class="u" d="M1923 4836H2136"/></g>
<g id="b5j4a"><text class="t" x="2149" y="4743.2">1、乙方患病或非因公（工）负伤，医疗期满<tspan x="2149" dy="12.6">后不能从事原工作，也不服从另行安排适当工</tspan><tspan x="2149" dy="12.6">作的；</tspan></text><path class="u" d="M2143 4775H2348"/></g>
<g id="b5j4b"><text class="t" x="2149" y="4811.8">2、乙方不能胜任工作，经过培训或者调整工<tspan x="2149" dy="12.6">作岗位，仍不能胜任的；</tspan></text><path class="u" d="M2143 4831H2348"/></g>
<g id="b5j4c"><text class="t" x="2149" y="4867.2">3、劳动合同订立时所依据的客观情况发生重<tspan x="2149" dy="12.6">大变化，致使原合同无法履行，经甲乙双方协</tspan><tspan x="2149" dy="12.6">商不能就变更劳动合同达成协议的。</tspan></text><path class="u" d="M2143 4899H2348"/></g>
<g id="b5j5"><text class="t" x="1929" y="5012.8">（五）有下列情况之一的，甲方不得依据本条<tspan x="1929" dy="12.6">第（四）款的规定解除或终止劳动合同：</tspan></text><path class="u" d="M1923 5032H2136"/></g>
<g id="b5j5a"><text class="t" x="2149" y="4935.4">1、乙方患病或者负伤在医疗期内的；</text><path class="u" d="M2143 4942H2316"/></g>
<g id="b5j5b"><text class="t" x="2149" y="4977.8">2、乙方患职业病或因公（工）负伤并被确认<tspan x="2149" dy="12.6">丧失或部分丧失工作能力的；</tspan></text><path class="u" d="M2143 4997H2348"/></g>
<g id="b5j5c"><text class="t" x="2149" y="5033.4">3、女职工在孕期，产期和哺乳期内的；</text><path class="u" d="M2143 5040H2325"/></g>
<g id="b5j5d"><text class="t" x="2149" y="5116.4">4、国家法律，法规另有规定的。</text><path class="u" d="M2143 5123H2306"/></g>
<g id="b5j5d1"><text class="t" x="2321" y="5076.8">（六）乙方在聘期内被开除，劳动教养以及被<tspan x="2321" dy="12.6">判刑的，劳动合同自行解除。</tspan></text><path class="u" d="M2315 5096H2519"/></g>
<g id="b5j5d2"><text class="t" x="2321" y="5131.8">（七）乙方提出解除劳动合同的，应当提前三<tspan x="2321" dy="12.6">十日以书面形式通知甲方。</tspan></text><path class="u" d="M2315 5151H2519"/></g>
<g id="b5j6"><text class="t" x="1929" y="5230.8">（八）有下列情况之一的，乙方可以随时提出<tspan x="1929" dy="12.6">解劳动用合同：</tspan></text><path class="u" d="M1923 5250H2136"/></g>
<g id="b5j6a"><text class="t" x="2149" y="5188.4">1、在试用期内的；</text><path class="u" d="M2143 5195H2237"/></g>
<g id="b5j6b"><text class="t" x="2149" y="5230.8">2、甲方未按照劳动合同约定支付工作报酬或<tspan x="2149" dy="12.6">者提供工作条件的；</tspan></text><path class="u" d="M2143 5250H2348"/></g>
<g id="b5j6c"><text class="t" x="2149" y="5298.4">3、国家法律，法规另有规定的。</text><path class="u" d="M2143 5305H2310"/></g>
<g id="b5j6c1"><text class="t" x="2325" y="5285.8">（九）经甲乙双方协商一致，劳动合同可以解<tspan x="2325" dy="12.6">除。</tspan></text><path class="u" d="M2319 5305H2519"/></g>
<g id="b5k"><text class="t" x="1726" y="5379.4">八、违反劳动合同的责任。</text><path class="u" d="M1720 5386H1859"/></g>
<g id="b5k1"><text class="t" x="1871" y="5341.6">甲乙双方违反合同规定，均应承担相应的违约<tspan x="1871" dy="12.6">责任。违约方要付给对方违约金。违约内容和</tspan><tspan x="1871" dy="12.6">违约金数额在第九条中约定。造成对方经济损</tspan><tspan x="1871" dy="12.6">失的，还应按实际损失承担经济赔偿责任。</tspan></text><path class="u" d="M1865 5386H2070"/></g>
<g id="b5l"><text class="t" x="1726" y="5546.4">九、双方需要约定的其他事项：</text><path class="u" d="M1720 5553H1873"/></g>
<g id="b5l1"><text class="t" x="1889" y="5422.6">本合同条款与法律，法规，规章，政策和甲方<tspan x="1889" dy="12.6">依法制定的规章制度相抵触的，以及本合同未</tspan><tspan x="1889" dy="12.6">尽事宜，均按法律，法规，规章，政策和甲方</tspan><tspan x="1889" dy="12.6">依法制定的规章制度执行。</tspan></text><path class="u" d="M1883 5467H2089"/></g>
<g id="b5l2"><text class="t" x="1889" y="5502.4">本合同一式二份，甲乙双方各执一份。</text><path class="u" d="M1883 5509H2057"/></g>
<g id="b5l3"><text class="t" x="1889" y="5546.4">甲方（盖章）：</text><path class="u" d="M1883 5553H1960"/></g>
<g id="b5l4"><text class="t" x="1889" y="5588.4">法定代表人（签章）：<tspan x="2018">(负责人)</tspan></text><path class="u" d="M1883 5595H2066"/></g>
<g id="b5l5"><text class="t" x="1889" y="5631.4">乙方（签章）：<tspan x="1984">__年__月__日</tspan></text><path class="u" d="M1883 5638H2057"/></g>

<!-- Branch 2 (left) -->
<g id="b2a"><text class="t" x="782" y="1662.4">甲方：________</text><path class="u" d="M779 1669H861"/></g>
<g id="b2b"><text class="t" x="782" y="1705.4">乙方：________</text><path class="u" d="M779 1712H861"/></g>
<g id="b2c"><text class="t" x="758" y="1748.4">身份证号码：_______</text><path class="u" d="M754 1755H861"/></g>
<g id="b2d"><text class="t" x="662" y="2089.2">甲方因生产（工作）需要，同意招用乙方为临<tspan x="662" dy="12.6">时工，经双方协商同意自愿订立本合同，并共</tspan><tspan x="662" dy="12.6">同遵守如下条款：</tspan></text><path class="u" d="M647 2121H861"/></g>
<g id="b2d1"><text class="t" x="576" y="1829.4">一、合同期限</text><path class="u" d="M570 1836H639"/></g>
<g id="b2d1a"><text class="t" x="354" y="1791.6">自____年____月____日起至____年____<tspan x="354" dy="12.6">_月_____日止。合同期满，本合同自行终止</tspan><tspan x="354" dy="12.6">，如甲方需要继续留用，经乙方同意，双方可</tspan><tspan x="354" dy="12.6">以续订合同，并办理鉴证手续。</tspan></text><path class="u" d="M350 1836H570"/></g>
<g id="b2d2"><text class="t" x="537" y="1935.4">二、生产（工作）任务</text><path class="u" d="M532 1942H639"/></g>
<g id="b2d2a"><text class="t" x="315" y="1872.4">甲方根据生产（工作）需要，安排乙方在____<tspan x="315" dy="12.6">____岗位，承担_______临时生产（工作）</tspan><tspan x="315" dy="12.6">任务。在合同期内甲方因调整生产（工作）任</tspan><tspan x="315" dy="12.6">务，需要变更乙方的岗位和任务，需经乙方同</tspan><tspan x="315" dy="12.6">意。如乙方不同意，可提出辞职，双方办理解</tspan><tspan x="315" dy="12.6">除合同手续。</tspan></text><path class="u" d="M310 1942H532"/></g>
<g id="b2d3"><text class="t" x="528" y="2024.4">三、劳动时间与劳动报酬</text><path class="u" d="M513 2031H639"/></g>
<g id="b2d3a"><text class="t" x="306" y="1977.8">（一）劳动时间：甲方实行每周____日，每<tspan x="306" dy="12.6">日_____小时工作制。</tspan></text><path class="u" d="M301 1997H505"/></g>
<g id="b2d3b"><text class="t" x="306" y="2032.2">（二）劳动报酬：甲乙双方协商定为为每月_<tspan x="306" dy="12.6">_____元。其它各种福利、津贴均含在当月</tspan><tspan x="306" dy="12.6">的劳动报酬中而不再另行计发。</tspan></text><path class="u" d="M301 2064H505"/></g>
<g id="b2d4"><text class="t" x="576" y="2187.4">四、劳动纪律</text><path class="u" d="M562 2194H639"/></g>
<g id="b2d4a"><text class="t" x="398" y="2101.4">（一）按时上下班，不得迟到早退。</text><path class="u" d="M388 2108H553"/></g>
<g id="b2d4b"><text class="t" x="369" y="2144.4">（二）严格遵守规章制度，按时完成工作。</text><path class="u" d="M358 2151H553"/></g>
<g id="b2d4c"><text class="t" x="379" y="2187.4">（三）爱护单位财产，不无故损坏公物。</text><path class="u" d="M375 2194H553"/></g>
<g id="b2d4d"><text class="t" x="427" y="2230.4">（四）听从指挥，服从调动。</text><path class="u" d="M419 2237H553"/></g>
<g id="b2d4e"><text class="t" x="369" y="2273.4">（五）有事及时请示报告，不得擅自主张。</text><path class="u" d="M360 2280H553"/></g>
<g id="b2d5"><text class="t" x="468" y="2397.4">五、协议的终止、变更、续签和解除：</text><path class="u" d="M454 2404H639"/></g>
<g id="b2d5a"><text class="t" x="246" y="2317.2">（一）本协议期限届满时即终止，由于工作需<tspan x="246" dy="12.6">要，在双方同意条件下，可续签协议，并应提</tspan><tspan x="246" dy="12.6">前1个月办理续签协议手续。</tspan></text><path class="u" d="M242 2349H446"/></g>
<g id="b2d5b"><text class="t" x="246" y="2384.8">（二）经双方协商同意，可以变更协议有关内<tspan x="246" dy="12.6">容并办理协议变更手续。</tspan></text><path class="u" d="M242 2404H446"/></g>
<g id="b2d5c"><text class="t" x="246" y="2439.8">（三）甲方可以根据国家有关规定和生产经营<tspan x="246" dy="12.6">状况解除本协议。</tspan></text><path class="u" d="M242 2459H446"/></g>
<g id="b2e"><text class="t" x="662" y="2578.8">（四）具有下列情况之一，乙方可以解除本协<tspan x="662" dy="12.6">议：</tspan></text><path class="u" d="M647 2598H861"/></g>
<g id="b2e1"><text class="t" x="440" y="2495.2">1、经国家有关部门确认，生产安全、卫生条<tspan x="440" dy="12.6">件恶劣、严重危害职工身体健康，企业又不加</tspan><tspan x="440" dy="12.6">以改善的。</tspan></text><path class="u" d="M435 2527H639"/></g>
<g id="b2e2"><text class="t" x="440" y="2563.8">2、甲方违反劳动协议或法律、行政法规，侵<tspan x="440" dy="12.6">害乙方合法权益的。</tspan></text><path class="u" d="M435 2583H639"/></g>
<g id="b2e3"><text class="t" x="440" y="2649.8">3、任何一方提前解除协议，均应提前15日通<tspan x="440" dy="12.6">知对方。</tspan></text><path class="u" d="M435 2669H639"/></g>
<g id="b2e3a"><text class="t" x="218" y="2649.8">六、本协议双方签字即生效。协议一式贰份，<tspan x="218" dy="12.6">甲、乙双方各持一份，具有同等法律效力。</tspan></text><path class="u" d="M203 2669H435"/></g>
<g id="b2e3a1"><text class="t" x="117" y="2619.4">甲方：________</text><path class="u" d="M111 2626H190"/></g>
<g id="b2e3a2"><text class="t" x="117" y="2662.4">乙方：________</text><path class="u" d="M111 2669H190"/></g>
<g id="b2e3a3"><text class="t" x="45" y="2705.4">签订日期：____年___月___日</text><path class="u" d="M40 2712H195"/></g>

<!-- Branch 4 (left) -->
<g id="b4a"><text class="t" x="720" y="2749.4">聘用方（甲方）：身份证号码：</text><path class="u" d="M715 2756H861"/></g>
<g id="b4b"><text class="t" x="720" y="2792.4">受聘方（乙方）：身份证号码：</text><path class="u" d="M715 2799H861"/></g>
<g id="b4c"><text class="t" x="681" y="2834.4">受聘人的担保人（丙方）：身份证号码：</text><path class="u" d="M676 2841H861"/></g>
<g id="b4d"><text class="t" x="662" y="2962.6">聘用方甲方______决定聘用受聘方乙方_____<tspan x="662" dy="12.6">__从事相关工作，经过甲方、乙方双方友好协</tspan><tspan x="662" dy="12.6">商，在平等自愿的基础上，协商一致达成如下</tspan><tspan x="662" dy="12.6">协议：</tspan></text><path class="u" d="M647 3007H861"/></g>
<g id="b4d1"><text class="t" x="577" y="2933.4">1.工作内容：</text><path class="u" d="M571 2940H639"/></g>
<g id="b4d1a"><text class="t" x="355" y="2877.8">a)负责家庭日常的清洁卫生和饮食起居相关工<tspan x="355" dy="12.6">作</tspan></text><path class="u" d="M351 2897H555"/></g>
<g id="b4d1b"><text class="t" x="424" y="2933.4">b)负责小孩的接送和临时安排</text><path class="u" d="M418 2940H555"/></g>
<g id="b4d1c"><text class="t" x="483" y="2976.4">c)其他交代事项</text><path class="u" d="M478 2983H555"/></g>
<g id="b4d2"><text class="t" x="577" y="3066.4">2.协议时间：</text><path class="u" d="M571 3073H639"/></g>
<g id="b4d2a"><text class="t" x="355" y="3019.8">本协议从_____年___月___日开始实施，届<tspan x="355" dy="12.6">时乙方按照甲方的安排执行。</tspan></text><path class="u" d="M351 3039H555"/></g>
<g id="b4d2b"><text class="t" x="355" y="3075.2">甲乙双方本着友好协商，平等自愿的原则，对<tspan x="355" dy="12.6">于任何一方提出终止协议的情形，都需要提前</tspan><tspan x="355" dy="12.6">一个月通知对方；双方互相谅解的情况除外。</tspan></text><path class="u" d="M351 3107H555"/></g>
<g id="b4e"><text class="t" x="797" y="3155.4">3.劳动报酬：</text><path class="u" d="M773 3162H861"/></g>
<g id="b4e1"><text class="t" x="574" y="3142.8">甲方按照每月____元的标准，每月月底支付<tspan x="574" dy="12.6">。</tspan></text><path class="u" d="M568 3162H773"/></g>
<g id="b4f"><text class="t" x="797" y="3387.4">4.补充条款：</text><path class="u" d="M777 3394H861"/></g>
<g id="b4f1"><text class="t" x="574" y="3199.4">双方一致同意，在上述约定的工作都完成，而<tspan x="574" dy="12.6">且甲方满意的情况下，乙方可以利用周一到周</tspan><tspan x="574" dy="12.6">五的上午的空余时间，适当的从事一些兼职的</tspan><tspan x="574" dy="12.6">工作。乙方自行承担兼职过程中产生的责任。</tspan><tspan x="574" dy="12.6">在兼职的过程中，甲方不承担此期间产生的责</tspan><tspan x="574" dy="12.6">任或连带责任。</tspan></text><path class="u" d="M568 3269H773"/></g>
<g id="b4f2"><text class="t" x="719" y="3304.4">5.其他事项</text><path class="u" d="M712 3311H773"/></g>
<g id="b4f3"><text class="t" x="574" y="3347.8">未尽事项，双方本着友好协商，平等自愿的原<tspan x="574" dy="12.6">则协商解决。</tspan></text><path class="u" d="M568 3367H773"/></g>
<g id="b4f4"><text class="t" x="574" y="3403.8">本协议一式三份，三方签字后生效，三方各执<tspan x="574" dy="12.6">一份。</tspan></text><path class="u" d="M568 3423H773"/></g>
<g id="b4f5"><text class="t" x="590" y="3458.4">甲方：_____乙方：_____丙方：_____</text><path class="u" d="M584 3465H773"/></g>
<g id="b4f6"><text class="t" x="574" y="3501.8">___年___月___日___年___月___日___<tspan x="574" dy="12.6">年___月___日</tspan></text><path class="u" d="M568 3521H773"/></g>

<g id="watermark">
<text class="w" text-anchor="middle" transform="translate(652 517) rotate(-33)" y="40">树图 shutu.cn</text>
<text class="w" text-anchor="middle" transform="translate(1914 517) rotate(-33)" y="40">树图 shutu.cn</text>
<text class="w" text-anchor="middle" transform="translate(652 1516) rotate(-33)" y="40">树图 shutu.cn</text>
<text class="w" text-anchor="middle" transform="translate(1914 1516) rotate(-33)" y="40">树图 shutu.cn</text>
<text class="w" text-anchor="middle" transform="translate(652 2516) rotate(-33)" y="40">树图 shutu.cn</text>
<text class="w" text-anchor="middle" transform="translate(1914 2516) rotate(-33)" y="40">树图 shutu.cn</text>
<text class="w" text-anchor="middle" transform="translate(652 3515) rotate(-33)" y="40">树图 shutu.cn</text>
<text class="w" text-anchor="middle" transform="translate(1914 3515) rotate(-33)" y="40">树图 shutu.cn</text>
<text class="w" text-anchor="middle" transform="translate(652 4514) rotate(-33)" y="40">树图 shutu.cn</text>
<text class="w" text-anchor="middle" transform="translate(1914 4514) rotate(-33)" y="40">树图 shutu.cn</text>
<text class="w" text-anchor="middle" transform="translate(652 5425) rotate(-33)" y="40">树图 shutu.cn</text>
<text class="w" text-anchor="middle" transform="translate(1914 5425) rotate(-33)" y="40">树图 shutu.cn</text>
</g>
</g>
</svg>
